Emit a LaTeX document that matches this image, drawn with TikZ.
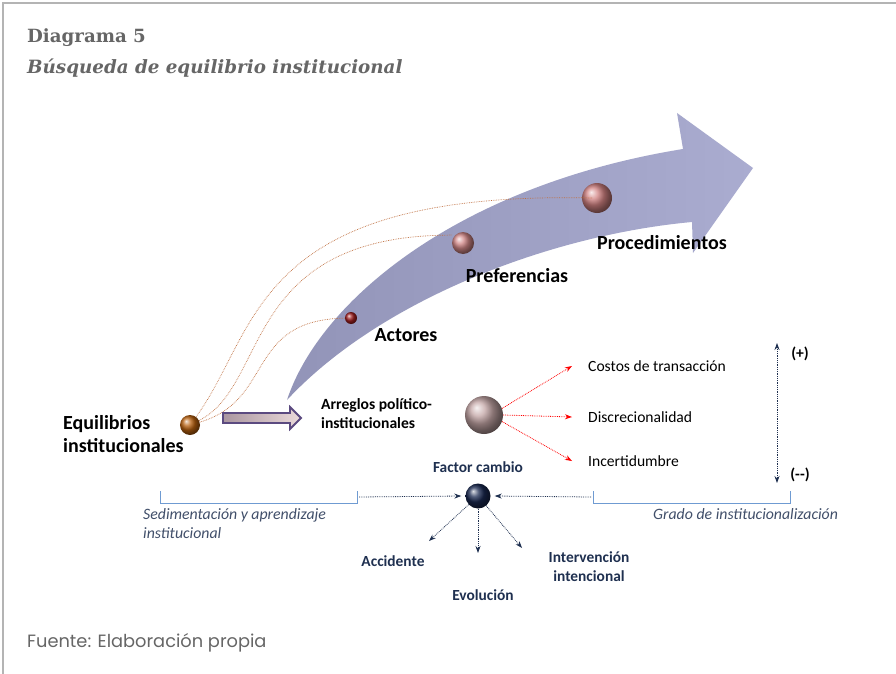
\documentclass[tikz,border=0pt]{standalone}
\usepackage{fontspec}
\setmainfont{Carlito}
\newfontfamily\titlefont{DejaVu Serif}
\newfontfamily\srcfont{Poppins}
\usetikzlibrary{arrows.meta}
\definecolor{navy}{HTML}{1F3050}
\definecolor{titlegrey}{HTML}{666666}
\definecolor{framegrey}{HTML}{B4B4B4}
\definecolor{brownline}{HTML}{C07040}
\definecolor{bracketblue}{HTML}{6F9BD2}
\definecolor{arrowlav}{HTML}{AAACD0}
\definecolor{arrowdark}{HTML}{9294B8}
\definecolor{hollowedge}{HTML}{5B4A80}
\tikzset{
  txt/.style={inner sep=0pt, font=\fontsize{20}{23}\selectfont\bfseries, text=black},
  small/.style={inner sep=0pt, font=\fontsize{15.6}{19}\selectfont, text=black},
  smallb/.style={inner sep=0pt, font=\fontsize{15.4}{19}\selectfont\bfseries, text=navy, align=center},
  itl/.style={inner sep=0pt, font=\fontsize{15.8}{19}\selectfont\itshape, text=navy!85, align=left},
  sphere/.style={circle, inner sep=0pt, minimum size=#1, shading=ball},
  brownc/.style={brownline, densely dotted, line width=0.7pt},
  redarr/.style={red, densely dotted, line width=0.8pt, -{Stealth[length=7pt,width=5pt]}},
  navarr/.style={navy, densely dotted, line width=0.8pt, -{Stealth[length=7pt,width=5pt]}},
  brack/.style={bracketblue, line width=0.8pt},
}
\begin{document}
\begin{tikzpicture}[x=1pt,y=-1pt]
\useasboundingbox (0,0) rectangle (896,674);
\fill[white] (0,0) rectangle (896,674);
\draw[framegrey, line width=1.5pt] (3,674) -- (3,3) -- (896,3);

% titles
\node[anchor=base west, inner sep=0pt, text=titlegrey, font=\titlefont\fontsize{18.2}{22}\selectfont\bfseries] (t1) at (27,43) {Diagrama 5};
\node[anchor=base west, inner sep=0pt, text=titlegrey, font=\titlefont\fontsize{18.3}{22}\selectfont\bfseries\itshape] (t2) at (27,74) {Búsqueda de equilibrio institucional};
\node[anchor=base west, inner sep=0pt, text=titlegrey, font=\srcfont\fontsize{17.8}{20}\selectfont] (src) at (27,647) {Fuente: Elaboración propia};

% big curved arrow
\shade[left color=arrowdark, right color=arrowlav]
  (287,400) .. controls (320,300) and (460,185) .. (683,149)
  -- (677,113) -- (753,168) -- (693,253) -- (692,222)
  .. controls (550,235) and (380,300) .. (287,400) -- cycle;

% spheres on arrow and brown dotted curves
\node[sphere=20pt, ball color={rgb,255:red,184;green,96;blue,14}] (b0) at (190,425) {};
\node[sphere=12pt, ball color={rgb,255:red,160;green,30;blue,30}] (b1) at (351,318) {};
\node[sphere=22pt, ball color={rgb,255:red,210;green,135;blue,135}] (b2) at (463,243) {};
\node[sphere=30pt, ball color={rgb,255:red,210;green,130;blue,130}] (b3) at (597,198) {};
\draw[brownc] (b0) .. controls (275,400) and (245,320) .. (b1);
\draw[brownc] (b0) .. controls (270,385) and (240,235) .. ([xshift=-3pt]b2.north west);
\draw[brownc] (b0) .. controls (260,330) and (250,190) .. ([xshift=-4pt]b3.center);

% labels on arrow
\node[txt] (act) at (406,335) {Actores};
\node[txt] (pref) at (517,276) {Preferencias};
\node[txt] (proc) at (662,243) {Procedimientos};
\node[txt, anchor=west, align=left] (eq) at (63,434) {Equilibrios\\institucionales};

% hollow arrow
\shade[left color={rgb,255:red,170;green,150;blue,160}, right color={rgb,255:red,235;green,218;blue,218}, draw=hollowedge, line width=1.8pt, line join=miter]
  (223,413) -- (290,413) -- (290,407) -- (301,418) -- (290,429) -- (290,423) -- (223,423) -- cycle;

\node[inner sep=0pt, font=\fontsize{15.6}{19}\selectfont\bfseries, anchor=west, align=left] (arr) at (321,414) {Arreglos político-\\institucionales};

% big ball with red arrows
\node[sphere=38pt, ball color={rgb,255:red,195;green,165;blue,165}] (bb) at (484,415) {};
\node[small, anchor=west] (c1) at (588,366) {Costos de transacción};
\node[small, anchor=west] (c2) at (588,417) {Discrecionalidad};
\node[small, anchor=west] (c3) at (588,461) {Incertidumbre};
\draw[redarr] (bb.20) -- ([xshift=-16pt]c1.west);
\draw[redarr] (bb.east) -- ([xshift=-16pt]c2.west);
\draw[redarr] (bb.-20) -- ([xshift=-16pt]c3.west);

% vertical scale
\coordinate (vt) at (777,343);
\coordinate (vb) at (777,483);
\draw[navy, densely dotted, line width=0.8pt, {Stealth[length=7pt,width=5pt]}-{Stealth[length=7pt,width=5pt]}] (vt) -- (vb);
\node[inner sep=0pt, font=\fontsize{15.6}{19}\selectfont\bfseries] (plus) at (800,354) {(+)};
\node[inner sep=0pt, font=\fontsize{15.6}{19}\selectfont\bfseries] (minus) at (800,475) {({-}{-})};

% factor cambio
\node[sphere=25pt, ball color={rgb,255:red,25;green,40;blue,80}] (fc) at (478,496) {};
\node[smallb] (fct) at (478,467) {Factor cambio};

% brackets
\draw[brack] (160,491) -- (160,503) -- (357,503) -- (357,491);
\draw[brack] (593,491) -- (593,503) -- (790,503) -- (790,491);
\coordinate (lb) at (359,497);
\coordinate (rb) at (591,497);
\draw[navarr] (lb) -- ([xshift=-4pt]fc.west);
\draw[navarr] (rb) -- ([xshift=4pt]fc.east);
\node[itl, anchor=north west] (sed) at (143,508) {Sedimentación y aprendizaje\\institucional};
\node[itl, anchor=north west] (gra) at (653,508) {Grado de institucionalización};

% outcomes
\node[smallb] (acc) at (393,561) {Accidente};
\node[smallb] (evo) at (483,595) {Evolución};
\node[smallb] (int) at (589,567) {Intervención\\intencional};
\coordinate (ea) at (429,541);
\coordinate (ee) at (478,553);
\coordinate (ei) at (522,548);
\draw[navarr] (fc) -- (ea);
\draw[navarr] (fc.south) -- (ee);
\draw[navarr] (fc) -- (ei);
\end{tikzpicture}
\end{document}
